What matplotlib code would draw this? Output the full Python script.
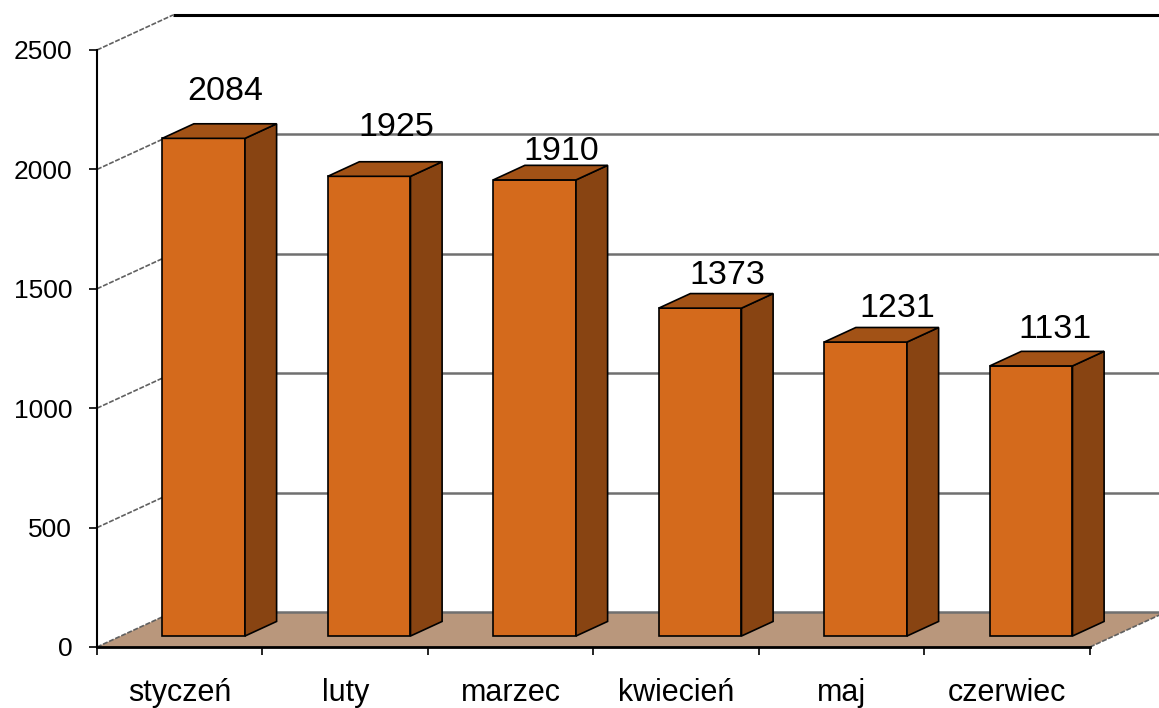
import matplotlib
matplotlib.use("Agg")
import matplotlib.pyplot as plt
from matplotlib.patches import Polygon

plt.rcParams['font.family'] = ['Liberation Sans', 'DejaVu Sans']

# Dane
MONTHS = ['styczeń', 'luty', 'marzec', 'kwiecień', 'maj', 'czerwiec']
VALUES = [2084, 1925, 1910, 1373, 1231, 1131]
Y_TICKS = [0, 500, 1000, 1500, 2000, 2500]

# Położenie etykiet wartości względem górnej krawędzi słupka (px)
LABEL_DX_PX = [22, 27, 27, 27, 32, 24]
LABEL_DY_PX = [47, 49, 28, 33, 34, 36]

# Geometria "3D" (px -> jednostki danych)
W, H = 1159, 708
PX_X = 165.5          # px na kategorię
PX_V = 0.2388         # px na jednostkę wartości
DX = 76 / PX_X        # głębokość w osi x
DV = 35 / PX_V        # głębokość w osi y
D0, D1 = 0.314, 0.73  # zakres głębokości słupka
BAR_W = 0.5

C_FRONT = '#D46A1C'
C_SIDE = '#884412'
C_TOP = '#A25216'
C_FLOOR = '#B9977C'

fig = plt.figure(figsize=(W / 100, H / 100), dpi=100)
ax = fig.add_axes([0, 0, 1, 1])
ax.set_xlim(-97 / PX_X, (W - 97) / PX_X)
ax.set_ylim(-(H - 647) / PX_V, 647 / PX_V)

n = len(MONTHS)

# podłoga
floor = Polygon([(0, 0), (n, 0), (n + DX, DV), (DX, DV)], closed=True,
                facecolor=C_FLOOR, edgecolor='none', zorder=1)
ax.add_patch(floor)

# ściana tylna - linie siatki
x_right = ax.get_xlim()[1]
for v in Y_TICKS:
    if v == Y_TICKS[-1]:
        ax.plot([DX, x_right], [v + DV, v + DV], color='black', lw=2.2, zorder=1.5,
                solid_capstyle='butt')
    else:
        ax.plot([DX, x_right], [v + DV, v + DV], color='#707070', lw=1.8, zorder=1.5,
                solid_capstyle='butt')
    # ściana boczna
    ax.plot([0, DX], [v, v + DV], color='#606060', lw=1.2, ls=(0, (3, 1)), zorder=1.6)

# prawa krawędź podłogi
ax.plot([n, n + DX], [0, DV], color='#606060', lw=1.2, ls=(0, (3, 1)), zorder=1.6)

# słupki
xs = [i + (1 - BAR_W) / 2 + D0 * DX for i in range(n)]
ax.bar(xs, VALUES, width=BAR_W, bottom=D0 * DV, align='edge', color=C_FRONT,
       edgecolor='black', linewidth=1.2, zorder=3)
for i, v in enumerate(VALUES):
    xl = xs[i]
    xr = xl + BAR_W
    b0, b1 = D0 * DV, D1 * DV
    side = Polygon([(xr, b0), (xr + (D1 - D0) * DX, b1), (xr + (D1 - D0) * DX, v + b1),
                    (xr, v + b0)], closed=True, facecolor=C_SIDE, edgecolor='black',
                   linewidth=1.2, zorder=3)
    top = Polygon([(xl, v + b0), (xr, v + b0), (xr + (D1 - D0) * DX, v + b1),
                   (xl + (D1 - D0) * DX, v + b1)], closed=True, facecolor=C_TOP,
                  edgecolor='black', linewidth=1.2, zorder=3)
    ax.add_patch(side)
    ax.add_patch(top)
    ax.annotate(str(v), xy=(xl + BAR_W / 2, v + b0),
                xytext=(LABEL_DX_PX[i] * 0.72, LABEL_DY_PX[i] * 0.72),
                textcoords='offset points', ha='center', va='center',
                fontsize=24.5, zorder=4)

# osie
for s in ['top', 'right']:
    ax.spines[s].set_visible(False)
ax.spines['left'].set_position(('data', 0))
ax.spines['left'].set_bounds(0, Y_TICKS[-1])
ax.spines['left'].set_linewidth(1.5)
ax.spines['bottom'].set_position(('data', 0))
ax.spines['bottom'].set_bounds(0, n)
ax.spines['bottom'].set_linewidth(2.0)

ax.set_yticks(Y_TICKS)
ax.set_yticklabels([str(t) for t in Y_TICKS])
ax.tick_params(axis='y', direction='out', length=5.8, width=1.2, pad=12, labelsize=19)

ax.set_xticks(range(n + 1))
ax.set_xticklabels([''] * (n + 1))
ax.set_xticks([i + 0.5 for i in range(n)], minor=True)
ax.set_xticklabels(MONTHS, minor=True)
ax.tick_params(axis='x', which='major', direction='out', length=5.8, width=1.2)
ax.tick_params(axis='x', which='minor', length=0, pad=22, labelsize=22)

fig.savefig('out.png', dpi=100)
